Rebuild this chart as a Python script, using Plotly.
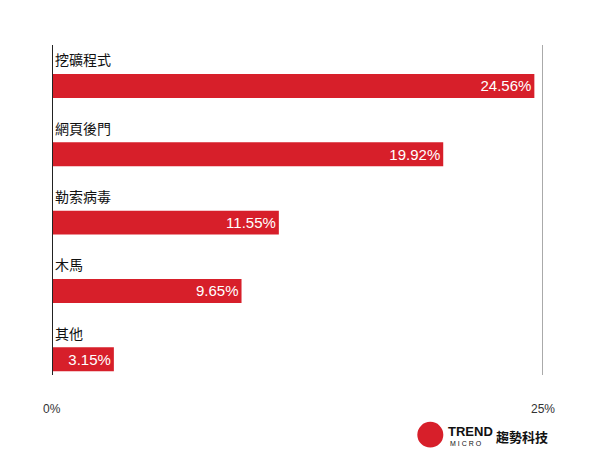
import plotly.graph_objects as go

categories = ["挖礦程式", "網頁後門", "勒索病毒", "木馬", "其他"]
values = [24.56, 19.92, 11.55, 9.65, 3.15]
tick_vals = [0, 25]
tick_text = ["0%", "25%"]

RED = "#d71f2a"
FONT = "Noto Sans CJK TC, Noto Sans, sans-serif"
NUM_FONT = "Liberation Sans, Arial, sans-serif"
pos = list(range(len(categories)))

fig = go.Figure(go.Bar(
    x=values, y=pos, orientation="h", width=0.35,
    marker=dict(color=RED, line=dict(width=0)),
    text=[f"{v:.2f}%" for v in values],
    textposition="inside", insidetextanchor="end",
    textfont=dict(color="white", size=15, family=NUM_FONT),
    hoverinfo="skip",
))

for i, c in enumerate(categories):
    fig.add_annotation(x=0, y=i - 0.39, text=c, xref="x", yref="y",
                       xanchor="left", yanchor="middle", xshift=1, showarrow=False,
                       font=dict(size=14, color="#111", family=FONT))

for v, t in zip(tick_vals, tick_text):
    fig.add_annotation(x=v, y=-0.103, xref="x", yref="paper", text=t,
                       showarrow=False, yanchor="middle",
                       font=dict(size=12, color="#333", family=NUM_FONT))

# 25% reference line and left axis
fig.add_shape(type="line", x0=25, x1=25, y0=0, y1=1, xref="x", yref="paper",
              line=dict(color="#555", width=1))
fig.add_shape(type="line", x0=0, x1=0, y0=0, y1=1, xref="x", yref="paper",
              line=dict(color="#222", width=2))

# logo
fig.add_shape(type="circle", xref="paper", yref="paper",
              x0=0.744, x1=0.797, y0=-0.22, y1=-0.142,
              fillcolor=RED, line=dict(width=0))
fig.add_annotation(x=0.802, y=-0.17, xref="paper", yref="paper", text="<b>TREND</b>",
                   showarrow=False, xanchor="left", yanchor="middle",
                   font=dict(size=13, color="#111", family=NUM_FONT))
fig.add_annotation(x=0.806, y=-0.207, xref="paper", yref="paper", text="M I C R O",
                   showarrow=False, xanchor="left", yanchor="middle",
                   font=dict(size=7, color="#111", family=NUM_FONT))
fig.add_annotation(x=0.9, y=-0.186, xref="paper", yref="paper", text="<b>趨勢科技</b>",
                   showarrow=False, xanchor="left", yanchor="middle",
                   font=dict(size=13, color="#111", family=FONT))

fig.update_xaxes(range=[0, 25], showgrid=False, showticklabels=False, zeroline=False)
fig.update_yaxes(range=[4.23, -0.6], showgrid=False, showticklabels=False, zeroline=False)
fig.update_layout(
    width=592, height=456, margin=dict(l=44, r=57, t=37, b=89),
    plot_bgcolor="white", paper_bgcolor="white", showlegend=False,
)
fig.write_html("out.html")
